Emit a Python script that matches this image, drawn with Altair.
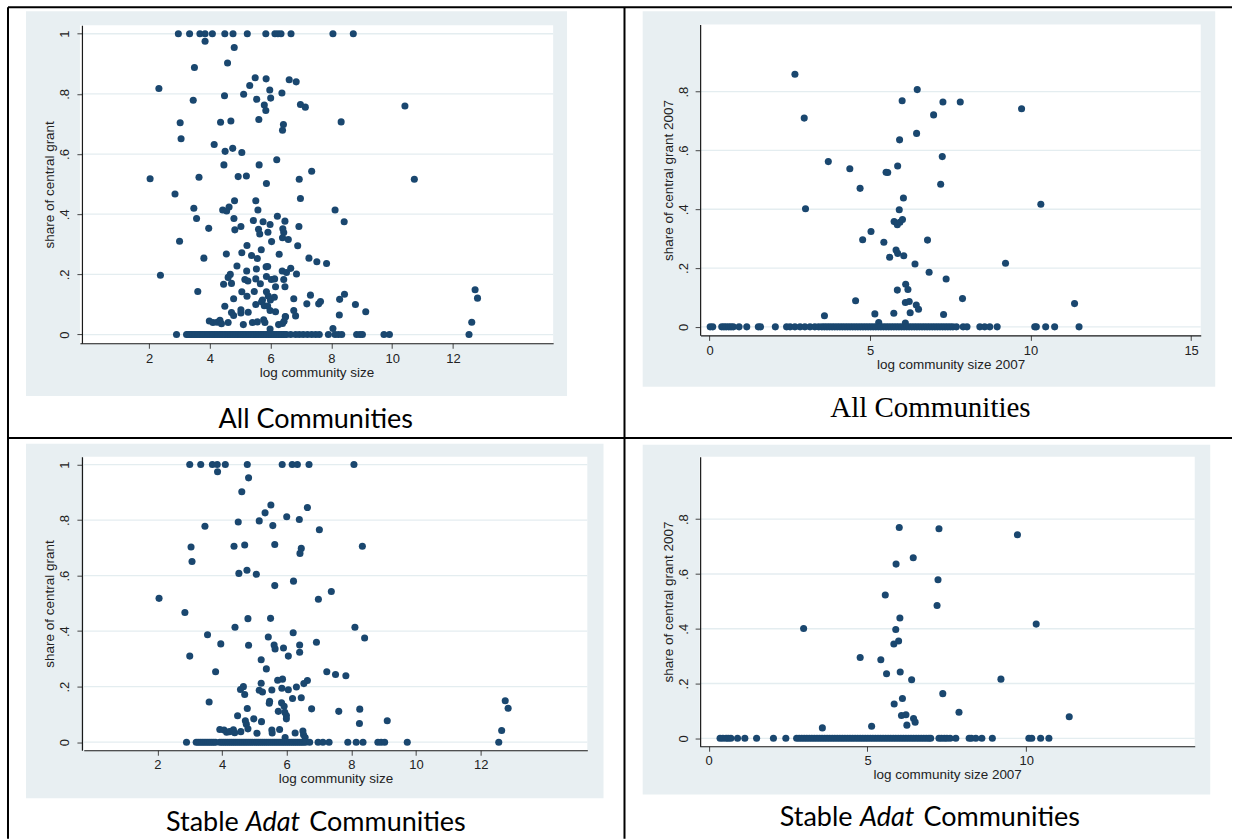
import altair as alt
import pandas as pd

# ---------------------------------------------------------------- data
# Panel A: all communities, log community size vs share of central grant
all_top = [2.96, 3.33, 3.67, 3.84, 4.08, 4.49, 4.76, 5.23, 5.84, 6.14, 6.24,
           6.34, 6.67, 8.05, 8.72]  # communities with share = 1
all_pts = [
    (3.84, 0.975), (4.80, 0.954), (3.49, 0.888), (4.58, 0.903), (5.49, 0.854),
    (5.85, 0.850), (6.61, 0.847), (6.84, 0.840), (2.32, 0.818), (5.31, 0.828),
    (5.97, 0.813), (6.37, 0.803), (4.48, 0.794), (5.11, 0.799), (3.45, 0.779),
    (5.54, 0.782), (6.00, 0.786), (5.79, 0.763), (5.84, 0.745), (6.98, 0.765),
    (7.14, 0.756), (10.42, 0.760), (3.02, 0.704), (4.35, 0.706), (4.69, 0.710),
    (5.61, 0.715), (6.42, 0.698), (6.39, 0.679), (8.32, 0.707), (3.05, 0.651),
    (4.14, 0.632), (4.50, 0.609), (4.75, 0.619), (5.05, 0.605), (4.46, 0.564),
    (5.62, 0.564), (6.20, 0.581), (7.35, 0.543), (2.03, 0.518), (3.64, 0.523),
    (4.93, 0.525), (5.20, 0.527), (5.86, 0.502), (6.94, 0.516), (10.73, 0.516),
    (2.85, 0.467), (4.81, 0.445), (5.51, 0.445), (6.98, 0.452), (3.47, 0.420),
    (4.42, 0.414), (4.63, 0.424), (4.55, 0.411), (5.58, 0.414), (8.12, 0.414),
    (3.56, 0.386), (4.79, 0.386), (3.96, 0.353), (4.82, 0.348), (5.02, 0.359),
    (5.43, 0.379), (5.75, 0.375), (6.22, 0.393), (6.47, 0.377), (5.60, 0.350),
    (5.64, 0.334), (5.98, 0.366), (5.91, 0.340), (6.40, 0.352), (6.43, 0.339),
    (6.93, 0.359), (8.42, 0.375), (3.00, 0.310), (6.03, 0.309), (6.39, 0.322),
    (6.58, 0.316), (5.22, 0.296), (6.89, 0.295), (3.80, 0.254), (4.54, 0.268),
    (5.05, 0.272), (5.37, 0.263), (5.56, 0.253), (5.69, 0.282), (6.28, 0.267),
    (7.26, 0.254), (7.52, 0.242), (7.84, 0.236), (2.37, 0.197), (4.89, 0.228),
    (5.21, 0.211), (5.53, 0.218), (5.85, 0.225), (5.90, 0.226), (4.67, 0.200),
    (4.60, 0.190), (4.45, 0.167), (4.71, 0.170), (5.15, 0.183), (5.25, 0.178),
    (5.51, 0.185), (5.66, 0.169), (5.86, 0.193), (6.02, 0.183), (6.13, 0.185),
    (6.43, 0.183), (6.38, 0.211), (6.52, 0.206), (6.66, 0.220), (6.85, 0.201),
    (6.47, 0.159), (6.16, 0.159), (3.60, 0.143), (5.05, 0.142), (5.46, 0.143),
    (5.86, 0.142), (5.92, 0.128), (5.22, 0.127), (4.78, 0.119), (5.73, 0.115),
    (5.99, 0.115), (6.12, 0.124), (6.76, 0.119), (7.31, 0.131), (7.19, 0.102),
    (7.58, 0.102), (7.64, 0.110), (8.27, 0.117), (8.43, 0.134), (8.79, 0.100),
    (9.13, 0.076), (8.26, 0.065), (4.49, 0.094), (4.71, 0.073), (4.78, 0.063),
    (5.02, 0.082), (5.02, 0.072), (5.26, 0.074), (5.51, 0.100), (5.70, 0.109),
    (5.79, 0.096), (5.90, 0.095), (5.98, 0.080), (6.16, 0.076), (6.76, 0.080),
    (6.82, 0.062), (6.48, 0.060), (3.98, 0.045), (4.10, 0.040), (4.24, 0.041),
    (4.33, 0.047), (4.38, 0.036), (4.60, 0.040), (5.10, 0.033), (5.40, 0.040),
    (5.56, 0.042), (5.77, 0.049), (5.81, 0.040), (5.98, 0.018), (6.26, 0.033),
    (6.39, 0.037), (6.44, 0.044), (6.49, 0.059), (8.05, 0.020), (12.62, 0.041),
    (12.73, 0.149), (12.81, 0.121),
]
all_zero = [2.90, 3.23, 3.28, 3.33, 3.38, 3.44, 3.49, 3.54, 3.60, 3.65, 3.70,
            3.76, 3.81, 3.87, 3.93, 3.98, 4.04, 4.09, 4.14, 4.20, 4.25, 4.31,
            4.36, 4.41, 4.47, 4.52, 4.58, 4.63, 4.68, 4.74, 4.79, 4.85, 4.90,
            4.95, 5.01, 5.06, 5.12, 5.17, 5.22, 5.28, 5.33, 5.39, 5.44, 5.49,
            5.55, 5.60, 5.66, 5.71, 5.76, 5.82, 5.87, 5.93, 5.98, 6.03, 6.09,
            6.14, 6.20, 6.25, 6.30, 6.36, 6.41, 6.47, 6.52, 6.66, 6.82, 6.94,
            7.07, 7.21, 7.35, 7.48, 7.60, 7.90, 8.12, 8.23, 8.34, 8.83, 8.94,
            9.02, 9.73, 9.91, 12.53]

# Panel B: all communities, 2007 values
all07_pts = [
    (2.66, 0.859), (6.47, 0.807), (6.00, 0.769), (7.27, 0.765), (7.81, 0.765),
    (9.72, 0.742), (2.95, 0.710), (6.98, 0.721), (6.45, 0.658), (5.92, 0.636),
    (7.25, 0.579), (3.70, 0.562), (4.37, 0.538), (5.55, 0.525), (5.50, 0.526),
    (5.86, 0.547), (4.69, 0.471), (7.20, 0.485), (6.04, 0.438), (2.99, 0.402),
    (5.91, 0.398), (10.32, 0.417), (5.75, 0.358), (5.85, 0.347), (5.93, 0.356),
    (6.01, 0.365), (5.03, 0.324), (4.77, 0.296), (5.43, 0.288), (6.79, 0.295),
    (5.81, 0.261), (5.86, 0.250), (5.61, 0.237), (6.05, 0.242), (6.40, 0.214),
    (6.84, 0.186), (7.37, 0.163), (9.22, 0.216), (6.11, 0.145), (6.18, 0.127),
    (5.85, 0.125), (4.55, 0.089), (6.10, 0.083), (6.22, 0.086), (6.44, 0.074),
    (6.51, 0.060), (7.88, 0.096), (11.37, 0.079), (3.58, 0.038), (5.15, 0.044),
    (5.74, 0.046), (6.25, 0.048), (7.29, 0.042), (5.27, 0.015), (6.10, 0.013),
]
all07_zero = [0.02, 0.10, 0.38, 0.45, 0.52, 0.60, 0.67, 0.74, 0.92, 1.16,
              1.52, 1.59, 2.05, 2.40, 2.51, 2.66, 2.82, 2.97, 3.13, 3.28,
              3.40, 3.50, 3.58, 3.66, 3.74, 3.82, 3.90, 3.98, 4.06, 4.14,
              4.22, 4.30, 4.38, 4.46, 4.54, 4.62, 4.70, 4.78, 4.86, 4.94,
              5.02, 5.10, 5.18, 5.26, 5.34, 5.42, 5.50, 5.58, 5.66, 5.74,
              5.82, 5.90, 5.98, 6.06, 6.14, 6.22, 6.30, 6.38, 6.46, 6.54,
              6.62, 6.70, 6.78, 6.86, 6.94, 7.02, 7.10, 7.18, 7.26, 7.34,
              7.42, 7.50, 7.58, 7.69, 7.90, 8.02, 8.42, 8.57, 8.73, 8.96,
              10.13, 10.18, 10.47, 10.75, 11.51]

# Panel C: stable adat communities
adat_top = [3.00, 3.34, 3.70, 3.85, 4.10, 4.78, 5.86, 6.17, 6.33, 6.69, 8.08]
adat_pts = [
    (3.86, 0.974), (4.82, 0.952), (4.61, 0.902), (5.51, 0.854), (6.64, 0.845),
    (5.33, 0.826), (6.00, 0.812), (6.39, 0.802), (4.50, 0.793), (5.15, 0.797),
    (3.47, 0.778), (5.57, 0.780), (7.01, 0.765), (3.04, 0.703), (4.37, 0.706),
    (4.70, 0.710), (5.63, 0.712), (6.45, 0.698), (6.41, 0.680), (8.34, 0.706),
    (3.07, 0.651), (4.52, 0.608), (4.77, 0.619), (5.06, 0.605), (5.63, 0.564),
    (6.21, 0.580), (7.38, 0.543), (2.05, 0.518), (6.98, 0.515), (2.85, 0.467),
    (4.80, 0.445), (5.50, 0.446), (4.40, 0.414), (8.11, 0.414), (6.20, 0.394),
    (3.55, 0.387), (5.43, 0.379), (8.41, 0.375), (3.96, 0.354), (4.82, 0.349),
    (5.61, 0.350), (5.64, 0.336), (5.90, 0.339), (6.40, 0.350), (6.40, 0.324),
    (6.92, 0.360), (6.05, 0.310), (3.00, 0.310), (5.21, 0.297), (5.37, 0.264),
    (3.80, 0.254), (7.24, 0.254), (7.51, 0.244), (7.83, 0.239), (5.72, 0.223),
    (5.87, 0.227), (6.64, 0.222), (6.53, 0.211), (5.21, 0.212), (4.66, 0.200),
    (4.57, 0.190), (4.70, 0.172), (5.15, 0.187), (5.25, 0.181), (5.54, 0.188),
    (5.85, 0.194), (6.05, 0.189), (6.30, 0.199), (6.18, 0.157), (6.45, 0.160),
    (3.60, 0.145), (5.47, 0.147), (5.46, 0.140), (5.84, 0.142), (5.92, 0.129),
    (6.77, 0.120), (7.61, 0.111), (8.26, 0.119), (5.74, 0.111), (5.94, 0.108),
    (5.99, 0.096), (5.99, 0.084), (4.78, 0.121), (4.48, 0.095), (4.72, 0.077),
    (4.75, 0.065), (4.80, 0.048), (4.98, 0.084), (5.22, 0.074), (9.11, 0.077),
    (8.25, 0.067), (3.93, 0.046), (4.06, 0.044), (4.14, 0.036), (4.23, 0.038),
    (4.35, 0.045), (4.39, 0.034), (4.58, 0.038), (5.08, 0.032), (5.54, 0.044),
    (5.55, 0.033), (5.78, 0.046), (6.26, 0.033), (6.50, 0.040), (6.52, 0.027),
    (5.95, 0.017), (6.57, 0.017), (12.76, 0.149), (12.85, 0.122), (12.65, 0.042),
]
adat_zero = [2.90, 3.20, 3.26, 3.32, 3.38, 3.44, 3.50, 3.56, 3.62, 3.68, 3.74,
             3.80, 3.93, 3.99, 4.05, 4.11, 4.17, 4.23, 4.29, 4.35, 4.41, 4.47,
             4.53, 4.59, 4.65, 4.71, 4.77, 4.83, 4.89, 4.95, 5.01, 5.07, 5.13,
             5.19, 5.25, 5.31, 5.37, 5.43, 5.49, 5.55, 5.61, 5.67, 5.73, 5.79,
             5.85, 5.91, 5.97, 6.03, 6.09, 6.15, 6.21, 6.27, 6.33, 6.39, 6.45,
             6.51, 6.58, 6.71, 6.97, 7.12, 7.31, 7.89, 8.15, 8.36, 8.82, 8.92,
             9.03, 9.73, 12.56]

# Panel D: stable adat communities, 2007 values
adat07_pts = [
    (6.00, 0.770), (7.25, 0.765), (9.72, 0.743), (6.44, 0.659), (5.90, 0.636),
    (7.22, 0.579), (5.56, 0.523), (7.19, 0.485), (6.02, 0.439), (2.99, 0.401),
    (5.89, 0.397), (10.31, 0.417), (5.98, 0.355), (5.83, 0.344), (4.77, 0.295),
    (5.42, 0.287), (5.60, 0.236), (6.03, 0.242), (6.39, 0.214), (9.20, 0.216),
    (7.37, 0.163), (6.10, 0.145), (5.84, 0.125), (7.88, 0.095), (6.07, 0.083),
    (6.21, 0.086), (6.45, 0.072), (6.50, 0.059), (6.24, 0.048), (5.13, 0.044),
    (3.58, 0.038), (11.35, 0.079),
]
adat07_zero = [0.36, 0.45, 0.55, 0.62, 0.70, 0.91, 1.14, 1.51, 2.04, 2.43,
               2.77, 2.85, 2.93, 3.01, 3.09, 3.17, 3.25, 3.33, 3.41, 3.49,
               3.57, 3.65, 3.73, 3.81, 3.89, 3.97, 4.05, 4.13, 4.21, 4.29,
               4.37, 4.45, 4.53, 4.61, 4.69, 4.77, 4.85, 4.93, 5.01, 5.09,
               5.17, 5.25, 5.33, 5.41, 5.49, 5.57, 5.65, 5.73, 5.81, 5.89,
               5.97, 6.05, 6.13, 6.21, 6.29, 6.37, 6.45, 6.53, 6.61, 6.69,
               6.77, 6.85, 6.93, 6.99, 7.25, 7.33, 7.42, 7.50, 7.60, 7.78,
               8.20, 8.27, 8.41, 8.60, 8.93, 10.08, 10.17, 10.45, 10.71]

x_ticks_a = [2, 4, 6, 8, 10, 12]
x_ticks_b = [0, 5, 10, 15]
x_ticks_d = [0, 5, 10]
y_ticks_full = [0, 0.2, 0.4, 0.6, 0.8, 1]
y_ticks_short = [0, 0.2, 0.4, 0.6, 0.8]

# ---------------------------------------------------------------- layout
NAVY = "#1a476f"
REGION = "#e8eff2"
GRID = "#e4edf0"
AXIS_FONT = "Liberation Sans"
DOMAIN_X = [-0.28, 15.3]
DOMAIN_Y = [-0.029, 1.028]
# Stata-style tick labels without the leading zero (".2", ".4", ...)
Y_LABEL = ("datum.value == 0 ? '0' : datum.value >= 1 ? '1' : "
           "'.' + round(datum.value * 10)")

# page position of each grid cell's plot origin (column x, row y)
COL_X = [82, 700.5]
ROW_Y = [25, 456]

one_row = pd.DataFrame({"k": [0]})


def caption(text, x, y, font, size, align="center", style="normal"):
    return alt.Chart(pd.DataFrame({"t": [text]})).mark_text(
        font=font, fontSize=size, align=align, baseline="middle",
        fontStyle=style, color="black").encode(
        text="t:N", x=alt.value(x), y=alt.value(y))


def line(xa, xb, ya, yb):
    return alt.Chart(one_row).mark_rule(color="black", strokeWidth=2).encode(
        x=alt.value(xa), x2=alt.value(xb), y=alt.value(ya), y2=alt.value(yb))


def panel(top, pts, zero, cell, plot, region, xticks, yticks, xtitle, ytitle,
          label_dy, title_dy, extras):
    """One Stata-style scatter: outer region, white plot area, grid, dots."""
    ox, oy = COL_X[cell[0]], ROW_Y[cell[1]]
    x0, x1, y0, y1 = plot[0] - ox, plot[1] - ox, plot[2] - oy, plot[3] - oy
    rx0, rx1, ry0, ry1 = (region[0] - ox, region[1] - ox,
                          region[2] - oy, region[3] - oy)
    rows = [(v, 1.0) for v in top] + list(pts) + [(v, 0.0) for v in zero]
    df = pd.DataFrame(rows, columns=["size", "share"])
    xs = alt.Scale(domain=DOMAIN_X, range=[x0, x1], nice=False, zero=False)
    ys = alt.Scale(domain=DOMAIN_Y, range=[y1, y0], nice=False, zero=False)

    common = dict(grid=False, zindex=1, domainColor="#1a1a1a", domainWidth=1.2,
                  tickColor="#444444", tickWidth=1, tickSize=5,
                  labelFont=AXIS_FONT, labelFontSize=13, labelColor="#222222",
                  titleFont=AXIS_FONT, titleFontSize=13.5, titleColor="#222222",
                  titleFontWeight="normal", labelFlush=False,
                  labelOverlap=False)
    x_axis = alt.Axis(orient="bottom", values=xticks, title=xtitle,
                      labelBaseline="middle", labelPadding=label_dy - 5,
                      labelAlign="center", labelAngle=0,
                      titleX=(x0 + x1) / 2, titleY=title_dy,
                      titleAlign="center", titleBaseline="middle",
                      titleAngle=0, **common)
    y_axis = alt.Axis(orient="left", values=yticks, title=ytitle,
                      labelExpr=Y_LABEL, labelAngle=270, labelAlign="center",
                      labelBaseline="middle", labelPadding=12,
                      titleX=-32, titleY=(y0 + y1) / 2, titleAlign="center",
                      titleBaseline="middle", titleAngle=270, **common)

    outer = alt.Chart(one_row).mark_rect(color=REGION).encode(
        x=alt.value(rx0), x2=alt.value(rx1), y=alt.value(ry0), y2=alt.value(ry1))
    inner = alt.Chart(one_row).mark_rect(color="white").encode(
        x=alt.value(x0), x2=alt.value(x1), y=alt.value(y0), y2=alt.value(y1))
    # horizontal grid at the labelled y values, under the dots
    grid = alt.Chart(pd.DataFrame({"share": yticks})).mark_rule(
        color=GRID, strokeWidth=1.3).encode(
        x=alt.value(x0), x2=alt.value(x1),
        y=alt.Y("share:Q", scale=ys, axis=y_axis))
    dots = alt.Chart(df).mark_circle(size=50, color=NAVY, opacity=1).encode(
        x=alt.X("size:Q", scale=xs, axis=x_axis),
        y=alt.Y("share:Q", scale=ys, axis=y_axis))
    return alt.layer(outer, inner, grid, dots, *extras).properties(
        width=x1, height=y1)


# table rules, drawn from the first cell's origin
fx0, fy0 = COL_X[0], ROW_Y[0]
frame = [
    line(8 - fx0, 1233 - fx0, 7 - fy0, 7 - fy0),
    line(8 - fx0, 8 - fx0, 7 - fy0, 839 - fy0),
    line(625 - fx0, 625 - fx0, 7 - fy0, 839 - fy0),
    line(8 - fx0, 1233 - fx0, 438 - fy0, 438 - fy0),
]


def stable_adat(cx, cy, stable_end, adat_start, comm_start, y):
    ox, oy = COL_X[cx], ROW_Y[cy]
    return [
        caption("Stable", stable_end - ox, y - oy, "Lato", 27, align="right"),
        caption("Adat", adat_start - ox, y - oy, "Lato", 27, align="left",
                style="italic"),
        caption("Communities", comm_start - ox, y - oy, "Lato", 27,
                align="left"),
    ]


p1 = panel(all_top, all_pts, all_zero, (0, 0), (80, 553.6, 25, 343.2),
           (26, 567.5, 11, 396), x_ticks_a, y_ticks_full,
           "log community size", "share of central grant", 15, 29,
           frame + [caption("All Communities", 316 - COL_X[0], 420 - ROW_Y[0],
                            "Lato", 27)])
p2 = panel([], all07_pts, all07_zero, (1, 0), (700.9, 1201.5, 24.3, 335.3),
           (643, 1216, 11, 386.7), x_ticks_b, y_ticks_short,
           "log community size 2007", "share of central grant 2007", 15, 29,
           [caption("All Communities", 931 - COL_X[1], 408 - ROW_Y[0],
                    "Liberation Serif", 29)])
p3 = panel(adat_top, adat_pts, adat_zero, (0, 1), (83.8, 587.8, 456, 749.7),
           (26, 604, 443, 797.7), x_ticks_a, y_ticks_full,
           "log community size", "share of central grant", 14, 28,
           stable_adat(0, 1, 239, 246, 309.5, 823))
p4 = panel([], adat07_pts, adat07_zero, (1, 1), (700.1, 1195.5, 456, 745.7),
           (643, 1211, 444, 794), x_ticks_d, y_ticks_short,
           "log community size 2007", "share of central grant 2007", 14, 28,
           stable_adat(1, 1, 853, 860.5, 924, 818))

col_gap = COL_X[1] - COL_X[0] - max(553.6 - COL_X[0], 587.8 - COL_X[0])
row_gap = ROW_Y[1] - ROW_Y[0] - (343.2 - ROW_Y[0])

chart = alt.concat(
    p1, p2, p3, p4, columns=2, bounds="flush",
    spacing={"row": row_gap, "column": col_gap},
).properties(
    padding={"left": 7, "top": 6, "right": 0, "bottom": 0},
    background="white",
).configure_view(strokeWidth=0)

chart.save("out.html", embed_options={"renderer": "svg", "actions": False})
